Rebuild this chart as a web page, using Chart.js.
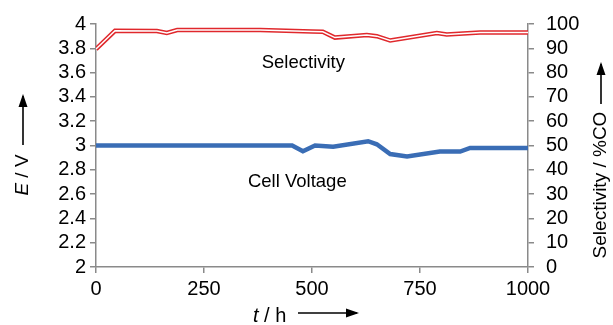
<!DOCTYPE html>
<html>
<head>
<meta charset="utf-8">
<script src="https://cdn.jsdelivr.net/npm/chart.js@4.4.1/dist/chart.umd.min.js"></script>
<style>
  html, body { margin: 0; padding: 0; background: #fff; }
  #chart { display: block; }
</style>
</head>
<body>
<canvas id="chart" width="613" height="325"></canvas>
<script>
// Selectivity (%CO), right axis
const selTime = [0, 44, 141, 164, 188, 380, 500, 525, 553, 627, 650, 681, 789, 812, 850, 889, 1000];
const selValues = [89.7, 97.2, 97.1, 96.3, 97.5, 97.5, 96.9, 96.8, 94.4, 95.5, 95.0, 93.2, 96.3, 95.7, 96.1, 96.5, 96.5];

// Cell voltage (V), left axis
const voltTime = [0, 454, 479, 507, 549, 630, 650, 681, 720, 796, 843, 866, 1000];
const voltValues = [3.0, 3.0, 2.953, 3.0, 2.99, 3.035, 3.01, 2.93, 2.91, 2.95, 2.95, 2.98, 2.98];

// Axis tick settings
const xTicks = [0, 250, 500, 750, 1000];
const leftRange = [2, 4];
const rightRange = [0, 100];

// In-plot labels: text, time, value, axis
const seriesLabels = ['Selectivity', 'Cell Voltage'];
const labelTimes = [480, 466];
const labelValues = [84, 2.70];
const labelAxes = ['y1', 'y'];

const toPoints = (xs, ys) => xs.map((x, i) => ({ x: x, y: ys[i] }));

const FONT = "'Liberation Sans', Arial, sans-serif";
const AXIS_GRAY = '#8a8a8a';

// Draw axis titles with arrows and the in-plot labels
const extraText = {
    id: 'extraText',
    afterDraw(chart) {
        const ctx = chart.ctx;
        ctx.save();
        ctx.fillStyle = '#000';
        ctx.strokeStyle = '#000';
        ctx.textBaseline = 'middle';
        ctx.textAlign = 'center';

        // in-plot labels
        ctx.font = '18.5px ' + FONT;
        seriesLabels.forEach((txt, i) => {
            const px = chart.scales.x.getPixelForValue(labelTimes[i]);
            const py = chart.scales[labelAxes[i]].getPixelForValue(labelValues[i]);
            ctx.fillText(txt, px, py);
        });

        const arrow = (x1, y1, x2, y2) => {
            ctx.lineWidth = 1.6;
            ctx.beginPath();
            ctx.moveTo(x1, y1);
            ctx.lineTo(x2, y2);
            ctx.stroke();
            const ang = Math.atan2(y2 - y1, x2 - x1);
            const len = 11, w = 4.5;
            ctx.beginPath();
            ctx.moveTo(x2 + Math.cos(ang) * 2, y2 + Math.sin(ang) * 2);
            ctx.lineTo(x2 - Math.cos(ang) * len - Math.sin(ang) * w, y2 - Math.sin(ang) * len + Math.cos(ang) * w);
            ctx.lineTo(x2 - Math.cos(ang) * len + Math.sin(ang) * w, y2 - Math.sin(ang) * len - Math.cos(ang) * w);
            ctx.closePath();
            ctx.fill();
        };

        // left title: E / V
        ctx.save();
        ctx.translate(23, 175);
        ctx.rotate(-Math.PI / 2);
        ctx.font = 'italic 19px ' + FONT;
        const eW = ctx.measureText('E').width;
        ctx.font = '19px ' + FONT;
        const restW = ctx.measureText(' / V').width;
        const start = -(eW + restW) / 2;
        ctx.textAlign = 'left';
        ctx.font = 'italic 19px ' + FONT;
        ctx.fillText('E', start, 0);
        ctx.font = '19px ' + FONT;
        ctx.fillText(' / V', start + eW, 0);
        ctx.restore();
        arrow(23, 145, 23, 96);

        // right title: Selectivity / %CO
        ctx.save();
        ctx.translate(601, 185);
        ctx.rotate(-Math.PI / 2);
        ctx.textAlign = 'center';
        ctx.font = '19px ' + FONT;
        ctx.fillText('Selectivity / %CO', 0, 0);
        ctx.restore();
        arrow(601, 104, 601, 64);

        // bottom title: t / h
        ctx.textAlign = 'left';
        ctx.font = 'italic 20px ' + FONT;
        const tW = ctx.measureText('t').width;
        ctx.fillText('t', 253, 316);
        ctx.font = '20px ' + FONT;
        ctx.fillText(' / h', 253 + tW, 316);
        arrow(298, 313, 357, 313);

        ctx.restore();
    }
};

const tickFont = { family: FONT, size: 20 };

new Chart(document.getElementById('chart'), {
    type: 'line',
    data: {
        datasets: [
            {
                label: 'Selectivity inner',
                data: toPoints(selTime, selValues),
                yAxisID: 'y1',
                borderColor: '#ffffff',
                borderWidth: 1.5,
                pointRadius: 0,
                tension: 0,
                order: 0
            },
            {
                label: 'Selectivity',
                data: toPoints(selTime, selValues),
                yAxisID: 'y1',
                borderColor: '#e0282c',
                borderWidth: 4.5,
                pointRadius: 0,
                tension: 0,
                order: 1
            },
            {
                label: 'Cell Voltage',
                data: toPoints(voltTime, voltValues),
                yAxisID: 'y',
                borderColor: '#3a6db5',
                borderWidth: 4.5,
                pointRadius: 0,
                tension: 0,
                order: 2
            }
        ]
    },
    options: {
        responsive: false,
        animation: false,
        layout: { padding: { top: 24, left: 0, right: 0, bottom: 0 } },
        plugins: {
            legend: { display: false },
            tooltip: { enabled: false }
        },
        scales: {
            x: {
                type: 'linear',
                min: xTicks[0],
                max: xTicks[xTicks.length - 1],
                afterBuildTicks: (scale) => { scale.ticks = xTicks.map(v => ({ value: v })); },
                ticks: { font: tickFont, color: '#000', padding: 4, maxRotation: 0, autoSkip: false, callback: (v) => String(v) },
                grid: { drawOnChartArea: false, drawTicks: true, tickLength: 6, color: AXIS_GRAY, lineWidth: 1.5 },
                border: { color: AXIS_GRAY, width: 1.5 },
                afterFit: (scale) => { scale.height = 58; }
            },
            y: {
                position: 'left',
                min: leftRange[0],
                max: leftRange[1],
                ticks: {
                    stepSize: 0.2,
                    autoSkip: false,
                    font: tickFont,
                    color: '#000',
                    padding: 4,
                    callback: (v) => String(Number(v.toFixed(1)))
                },
                grid: { drawOnChartArea: false, drawTicks: true, tickLength: 6, color: AXIS_GRAY, lineWidth: 1.5 },
                border: { color: AXIS_GRAY, width: 1.5 },
                afterFit: (scale) => { scale.width = 96; }
            },
            y1: {
                position: 'right',
                min: rightRange[0],
                max: rightRange[1],
                ticks: { stepSize: 10, autoSkip: false, font: tickFont, color: '#000', padding: 12 },
                grid: { drawOnChartArea: false, drawTicks: true, tickLength: 6, color: AXIS_GRAY, lineWidth: 1.5 },
                border: { color: AXIS_GRAY, width: 1.5 },
                afterFit: (scale) => { scale.width = 85; }
            }
        }
    },
    plugins: [extraText]
});
</script>
</body>
</html>
